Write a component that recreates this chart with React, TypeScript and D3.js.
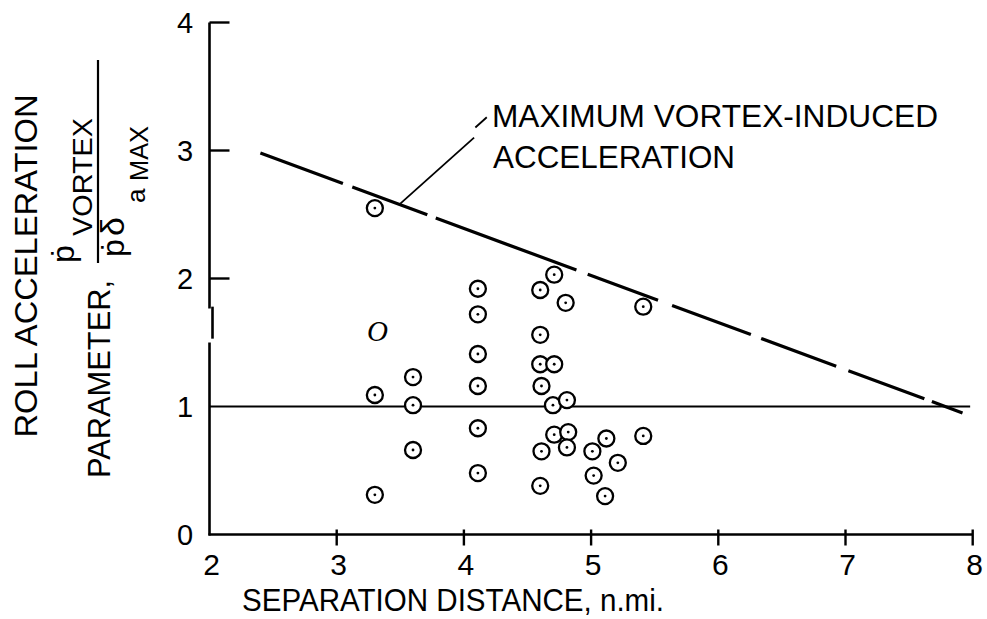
import * as d3 from "d3";

const W = 987;
const H = 619;
const FONT = "'Liberation Sans', Arial, Helvetica, sans-serif";

// axis ticks
const xTickValues = [2, 3, 4, 5, 6, 7, 8];
const yTickValues = [0, 1, 2, 3, 4];

// data points: separation distance (n.mi.) vs roll acceleration parameter
const sepDist = [
  3.3, 3.3, 3.3, 3.6, 3.6, 3.6, 4.11, 4.11, 4.11, 4.11, 4.11, 4.11, 4.6, 4.6,
  4.6, 4.61, 4.61, 4.6, 4.71, 4.71, 4.7, 4.71, 4.8, 4.81, 4.82, 4.81, 5.01,
  5.02, 5.12, 5.11, 5.21, 5.41, 5.41,
];
const rollParam = [
  2.55, 1.09, 0.31, 1.23, 1.01, 0.66, 1.92, 1.72, 1.41, 1.16, 0.83, 0.48, 1.91,
  1.56, 1.33, 1.16, 0.65, 0.38, 2.03, 1.33, 1.01, 0.78, 1.81, 1.05, 0.8, 0.68,
  0.65, 0.46, 0.75, 0.3, 0.56, 1.78, 0.77,
];

// open point with no dot
const openPointX = [3.32];
const openPointY = [1.59];

// maximum vortex-induced acceleration line
const maxLineX = [2.4, 7.92];
const maxLineY = [2.98, 0.95];

// leader from the label to the dashed line
const leaderX = [3.5, 4.08, 4.09, 4.18];
const leaderY = [2.585, 3.1, 3.18, 3.26];

const App = () => {
  const x = d3.scaleLinear().domain([2, 8]).range([209.5, 972.7]);
  const y = d3.scaleLinear().domain([0, 4]).range([534.5, 22.5]);

  const line = d3
    .line<[number, number]>()
    .x((d) => x(d[0]))
    .y((d) => y(d[1]));

  const maxPts: [number, number][] = maxLineX.map((v, i) => [v, maxLineY[i]]);
  // hand drawn dashes, lengths along the line
  const dashes = "88 10 80 9 150 12 75 15 84 11 80 13 81 8 40";

  const leader1: [number, number][] = [
    [leaderX[0], leaderY[0]],
    [leaderX[1], leaderY[1]],
  ];
  const leader2: [number, number][] = [
    [leaderX[2], leaderY[2]],
    [leaderX[3], leaderY[3]],
  ];

  const x0 = x(2);
  const y0 = y(0);

  return (
    <svg
      width={W}
      height={H}
      style={{ position: "absolute", left: 0, top: 0, background: "white" }}
      fontFamily={FONT}
    >
      <rect width={W} height={H} fill="white" />

      {/* y axis, with the small jog from the original drawing */}
      <g stroke="black" strokeWidth={2.6} fill="none">
        <line x1={x0} x2={x0} y1={y(4)} y2={y(1.765)} />
        <line x1={x0 + 3} x2={x0 + 3} y1={y(1.78)} y2={y(1.53)} />
        <line x1={x0} x2={x0} y1={y(1.5)} y2={y0 + 1} />
        <line x1={x0 - 1} x2={x(8)} y1={y0} y2={y0} />
      </g>

      {/* y ticks */}
      {yTickValues.map((t) => (
        <g key={"yt" + t}>
          {t > 1 && (
            <line x1={x0} x2={x0 + 20} y1={y(t)} y2={y(t)} stroke="black" strokeWidth={2.4} />
          )}
          {t === 1 && (
            <line x1={x0} x2={x(7.98)} y1={y(t)} y2={y(t)} stroke="black" strokeWidth={1.8} />
          )}
          <text x={185} y={y(t) + 10.5} fontSize={29} textAnchor="middle" fill="black">
            {t}
          </text>
        </g>
      ))}

      {/* x ticks */}
      {xTickValues.map((t) => (
        <g key={"xt" + t}>
          {t > 2 && (
            <line x1={x(t)} x2={x(t)} y1={y0 - 5} y2={y0 + 11} stroke="black" strokeWidth={2.4} />
          )}
          <text x={x(t) + 2} y={575} fontSize={30} textAnchor="middle" fill="black">
            {t}
          </text>
        </g>
      ))}

      <text x={242} y={611} fontSize={32} textLength={422} lengthAdjust="spacingAndGlyphs" fill="black">
        SEPARATION DISTANCE, n.mi.
      </text>

      {/* y axis title */}
      <g transform="rotate(-90)" fill="black">
        <text x={-266} y={37} fontSize={32} textAnchor="middle" textLength={343} lengthAdjust="spacingAndGlyphs">
          ROLL ACCELERATION
        </text>
        <text x={-478} y={110} fontSize={32} textLength={198} lengthAdjust="spacingAndGlyphs">
          PARAMETER,
        </text>
        <text x={-263} y={74} fontSize={32}>
          ṗ
        </text>
        <text x={-236} y={92} fontSize={27} textLength={118} lengthAdjust="spacingAndGlyphs">
          VORTEX
        </text>
        <line x1={-263} x2={-60} y1={98} y2={98} stroke="black" strokeWidth={2.2} />
        <text x={-257} y={124} fontSize={32}>
          ṗ
        </text>
        <text x={-236} y={124} fontSize={34}>
          δ
        </text>
        <text x={-203} y={145} fontSize={26}>
          a
        </text>
        <text x={-181} y={148} fontSize={25} textLength={55} lengthAdjust="spacingAndGlyphs">
          MAX
        </text>
      </g>

      {/* maximum vortex-induced acceleration */}
      <path d={line(maxPts) || ""} fill="none" stroke="black" strokeWidth={3.2} strokeDasharray={dashes} />
      <path d={line(leader1) || ""} fill="none" stroke="black" strokeWidth={1.8} />
      <path d={line(leader2) || ""} fill="none" stroke="black" strokeWidth={1.8} />
      <text x={492} y={127} fontSize={31} textLength={446} lengthAdjust="spacingAndGlyphs" fill="black">
        MAXIMUM VORTEX-INDUCED
      </text>
      <text x={493} y={168} fontSize={31} textLength={242} lengthAdjust="spacingAndGlyphs" fill="black">
        ACCELERATION
      </text>

      {/* points */}
      {sepDist.map((d, i) => (
        <g key={"p" + i}>
          <circle cx={x(d)} cy={y(rollParam[i])} r={8} fill="white" stroke="black" strokeWidth={2.3} />
          <circle cx={x(d)} cy={y(rollParam[i])} r={1.4} fill="black" />
        </g>
      ))}
      {openPointX.map((d, i) => (
        <text
          key={"o" + i}
          x={x(d)}
          y={y(openPointY[i]) + 10}
          fontSize={29}
          fontStyle="italic"
          fontFamily="'Liberation Serif', 'Times New Roman', serif"
          textAnchor="middle"
          fill="black"
        >
          O
        </text>
      ))}
    </svg>
  );
};

export default App;
